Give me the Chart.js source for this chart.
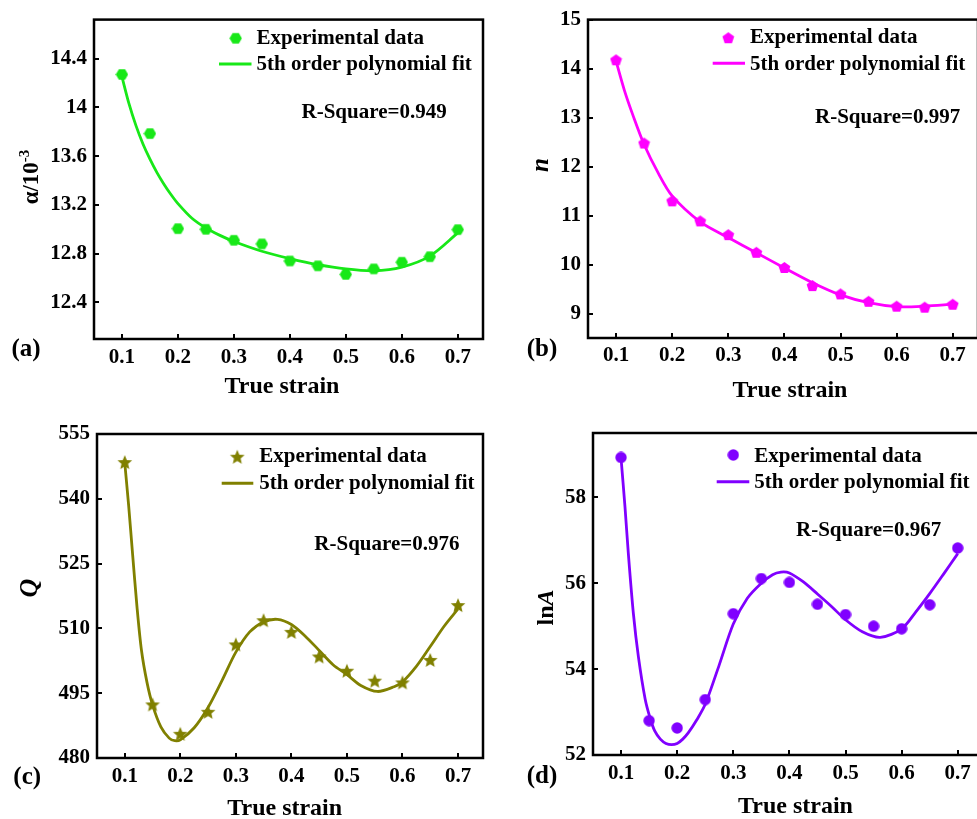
<!DOCTYPE html>
<html><head><meta charset="utf-8">
<script src="https://cdn.jsdelivr.net/npm/chart.js@4.4.1/dist/chart.umd.min.js"></script>
<style>
html,body{margin:0;padding:0;background:#fff;overflow:hidden;width:977px;height:819px;position:relative;}
canvas{position:absolute;}
</style></head><body>
<canvas id="cA" width="490" height="410" style="left:0px;top:0px"></canvas>
<canvas id="cB" width="500" height="410" style="left:490px;top:0px"></canvas>
<canvas id="cC" width="490" height="409" style="left:0px;top:410px"></canvas>
<canvas id="cD" width="500" height="409" style="left:490px;top:410px"></canvas>
<script>
// ---------- data ----------
const strain = [0.1,0.15,0.2,0.25,0.3,0.35,0.4,0.45,0.5,0.55,0.6,0.65,0.7];
const xTickVals = [0.1,0.2,0.3,0.4,0.5,0.6,0.7];

const alphaExp = [14.27,13.785,13.005,13.0,12.91,12.88,12.74,12.70,12.63,12.675,12.73,12.775,12.997];
const alphaFitX = [0.1,0.1125,0.125,0.1375,0.15,0.1625,0.175,0.1875,0.2,0.225,0.25,0.275,0.3,0.35,0.4,0.45,0.5,0.55,0.6,0.65,0.7];
const alphaFitY = [14.25,14.03,13.85,13.70,13.575,13.465,13.37,13.285,13.21,13.09,13.01,12.95,12.90,12.82,12.76,12.71,12.675,12.66,12.69,12.78,12.97];
const alphaTicks = [12.4,12.8,13.2,13.6,14,14.4];

const nExp = [14.18,12.48,11.30,10.89,10.61,10.25,9.94,9.57,9.40,9.25,9.15,9.13,9.19];
const nFitX = [0.1,0.115,0.13,0.15,0.175,0.2,0.25,0.3,0.35,0.4,0.45,0.5,0.55,0.6,0.65,0.7];
const nFitY = [14.15,13.55,13.05,12.45,11.87,11.40,10.87,10.55,10.24,9.93,9.63,9.38,9.22,9.14,9.15,9.19];
const nTicks = [9,10,11,12,13,14,15];

const qExp = [548.5,492.4,485.6,490.7,506.3,511.9,509.2,503.5,500.2,497.9,497.5,502.7,515.4];
const qFitX = [0.1,0.107,0.114,0.122,0.13,0.14,0.15,0.165,0.18,0.19,0.2,0.225,0.25,0.275,0.3,0.325,0.35,0.375,0.4,0.425,0.45,0.475,0.5,0.525,0.555,0.585,0.6,0.625,0.65,0.675,0.7];
const qFitY = [548.3,538.4,527.3,515.0,505.0,497.5,492.3,487.2,484.6,484.0,484.2,487.0,491.7,497.9,504.5,509.2,511.5,512.1,510.9,508.2,504.9,501.6,499.3,496.8,495.4,496.5,497.6,501.2,505.8,510.5,514.5];
const qTicks = [480,495,510,525,540,555];

const lnAExp = [58.93,52.80,52.63,53.29,55.29,56.11,56.02,55.51,55.27,55.0,54.94,55.50,56.82];
const lnAFitX = [0.1,0.107,0.113,0.122,0.131,0.143,0.152,0.16,0.17,0.18,0.19,0.2,0.21,0.22,0.235,0.25,0.275,0.3,0.325,0.35,0.37,0.385,0.4,0.425,0.45,0.475,0.5,0.53,0.562,0.6,0.625,0.65,0.675,0.7];
const lnAFitY = [58.91,57.78,56.69,55.29,54.28,53.30,52.85,52.56,52.37,52.27,52.24,52.27,52.37,52.52,52.82,53.18,54.1,55.05,55.65,56.0,56.2,56.26,56.24,56.03,55.75,55.46,55.15,54.87,54.74,54.94,55.33,55.76,56.22,56.69];
const lnATicks = [52,54,56,58];

const legendExp = 'Experimental data';
const legendFit = '5th order polynomial fit';
const xTitleText = 'True strain';

// ---------- helpers ----------
const SERIF = "'Liberation Serif','Times New Roman',serif";
Chart.defaults.color = '#000';
Chart.defaults.font.family = SERIF;

function makeMarker(shape, color, size) {
  const c = document.createElement('canvas');
  c.width = size; c.height = size;
  const g = c.getContext('2d');
  g.fillStyle = color;
  const cx = size / 2, cy = size / 2, r = size / 2 - 0.3;
  g.beginPath();
  if (shape === 'circle') {
    g.arc(cx, cy, r, 0, Math.PI * 2);
  } else if (shape === 'star') {
    for (let k = 0; k < 10; k++) {
      const ang = -Math.PI / 2 + k * Math.PI / 5;
      const rr = (k % 2 === 0) ? r : r * 0.45;
      const px = cx + rr * Math.cos(ang), py = cy + rr * Math.sin(ang) + 0.7;
      k === 0 ? g.moveTo(px, py) : g.lineTo(px, py);
    }
  } else {
    const n = shape === 'hexagon' ? 6 : 5;
    const off = shape === 'hexagon' ? 0 : -Math.PI / 2;
    for (let k = 0; k < n; k++) {
      const ang = off + k * 2 * Math.PI / n;
      const px = cx + r * Math.cos(ang), py = cy + r * Math.sin(ang) + (n === 5 ? 0.6 : 0);
      k === 0 ? g.moveTo(px, py) : g.lineTo(px, py);
    }
  }
  g.closePath();
  g.fill();
  return c;
}

function pts(xs, ys) { return xs.map((x, i) => ({ x: x, y: ys[i] })); }

const decor = {
  id: 'decor',
  afterDraw(chart, args, o) {
    const { ctx, chartArea: ca } = chart;
    const xs = chart.scales.x, ys = chart.scales.y;
    ctx.save();
    ctx.strokeStyle = '#000';
    ctx.lineWidth = 2;
    ctx.beginPath();
    xs.ticks.forEach(t => {
      const px = Math.round(xs.getPixelForValue(t.value));
      ctx.moveTo(px, ca.bottom); ctx.lineTo(px, ca.bottom - 5);
    });
    ys.ticks.forEach(t => {
      const py = Math.round(ys.getPixelForValue(t.value));
      ctx.moveTo(ca.left, py); ctx.lineTo(ca.left + 5, py);
    });
    ctx.stroke();
    ctx.lineWidth = 2.5;
    ctx.strokeRect(ca.left, ca.top, ca.right - ca.left, ca.bottom - ca.top);

    ctx.fillStyle = '#000';
    ctx.textBaseline = 'alphabetic';
    // legend
    const L = o.legend;
    const img = chart.data.datasets[0].pointStyle;
    ctx.drawImage(img, L.mx - img.width / 2, L.my - img.height / 2);
    ctx.strokeStyle = chart.data.datasets[1].borderColor;
    ctx.lineWidth = 3;
    ctx.beginPath(); ctx.moveTo(L.lx1, L.ly); ctx.lineTo(L.lx2, L.ly); ctx.stroke();
    ctx.font = 'bold 21px ' + SERIF;
    ctx.textAlign = 'left';
    ctx.fillText(legendExp, L.tx, L.ty1);
    ctx.fillText(legendFit, L.tx, L.ty2);
    // R-square
    ctx.fillText(o.rsq.text, o.rsq.x, o.rsq.y);
    // panel label
    ctx.font = 'bold 25px ' + SERIF;
    ctx.fillText(o.label.text, o.label.x, o.label.y);
    // x title
    ctx.font = 'bold 24px ' + SERIF;
    ctx.textAlign = 'center';
    ctx.fillText(xTitleText, o.xTitle.x, o.xTitle.y);
    // y title (rotated, mixed styles)
    const T = o.yTitle;
    ctx.translate(T.x, T.y);
    ctx.rotate(-Math.PI / 2);
    ctx.textAlign = 'left';
    let total = 0;
    T.segs.forEach(s => { ctx.font = s.font; s.w = ctx.measureText(s.text).width; total += s.w; });
    let xo = -total / 2;
    T.segs.forEach(s => { ctx.font = s.font; ctx.fillText(s.text, xo, -(s.rise || 0)); xo += s.w; });
    ctx.restore();
  }
};

function makeChart(id, c) {
  const canvas = document.getElementById(id);
  const W = canvas.width, H = canvas.height;
  const a = c.area;
  return new Chart(canvas, {
    type: 'scatter',
    data: {
      datasets: [
        { label: legendExp, data: pts(strain, c.exp), pointStyle: c.marker, pointRadius: 6,
          pointHoverRadius: 6, backgroundColor: c.color, borderColor: c.color, showLine: false },
        { label: legendFit, data: pts(c.fitX, c.fitY), showLine: true, pointRadius: 0,
          pointHoverRadius: 0, borderColor: c.color, borderWidth: 2.8, tension: 0.3,
          fill: false }
      ]
    },
    options: {
      responsive: false, animation: false, devicePixelRatio: 1,
      events: [],
      layout: { padding: { left: 0, top: a.t, right: W - a.r, bottom: 0 } },
      plugins: { legend: { display: false }, tooltip: { enabled: false }, decor: c.decor },
      scales: {
        x: {
          type: 'linear', min: 0.05, max: 0.745,
          grid: { display: false, drawTicks: false }, border: { display: false },
          afterBuildTicks: s => { s.ticks = xTickVals.map(v => ({ value: v })); },
          afterFit: s => { s.height = H - a.b; },
          ticks: { autoSkip: false, maxRotation: 0, padding: c.xPad, color: '#000',
                   font: { family: SERIF, size: 21, weight: 'bold' }, callback: v => String(v) }
        },
        y: {
          type: 'linear', min: c.yMin, max: c.yMax,
          grid: { display: false, drawTicks: false }, border: { display: false },
          afterBuildTicks: s => { s.ticks = c.yTicks.map(v => ({ value: v })); },
          afterFit: s => { s.width = a.l; },
          ticks: { autoSkip: false, padding: 7, color: '#000',
                   font: { family: SERIF, size: 21, weight: 'bold' }, callback: v => String(v) }
        }
      }
    },
    plugins: [decor]
  });
}

const BI = 'italic bold ';

makeChart('cA', {
  exp: alphaExp, fitX: alphaFitX, fitY: alphaFitY, yTicks: alphaTicks, yMin: 12.1, yMax: 14.72,
  color: 'rgb(24,232,24)', marker: makeMarker('hexagon', 'rgb(24,232,24)', 13),
  area: { l: 94, t: 16, r: 484, b: 339 }, xPad: 6,
  decor: {
    legend: { mx: 235.7, my: 38.3, tx: 256.5, ty1: 43.5, lx1: 219, lx2: 251.5, ly: 64, ty2: 69.5 },
    rsq: { text: 'R-Square=0.949', x: 301.5, y: 118 },
    label: { text: '(a)', x: 11.5, y: 356 },
    xTitle: { x: 282, y: 393 },
    yTitle: { x: 38, y: 177, segs: [ { text: 'α/10', font: 'bold 23px ' + SERIF }, { text: '-3', font: 'bold 15px ' + SERIF, rise: 9 } ] }
  }
});

makeChart('cB', {
  exp: nExp, fitX: nFitX, fitY: nFitY, yTicks: nTicks, yMin: 8.5, yMax: 15,
  color: '#ff00ff', marker: makeMarker('pentagon', '#ff00ff', 13),
  area: { l: 98, t: 15, r: 488, b: 338 }, xPad: 5,
  decor: {
    legend: { mx: 238.3, my: 37.7, tx: 260, ty1: 43.3, lx1: 222.7, lx2: 255, ly: 63.3, ty2: 70 },
    rsq: { text: 'R-Square=0.997', x: 325, y: 123.3 },
    label: { text: '(b)', x: 36.7, y: 356 },
    xTitle: { x: 300, y: 396.7 },
    yTitle: { x: 58.3, y: 165, segs: [ { text: 'n', font: BI + '25px ' + SERIF } ] }
  }
});

makeChart('cC', {
  exp: qExp, fitX: qFitX, fitY: qFitY, yTicks: qTicks, yMin: 480, yMax: 555,
  color: '#808000', marker: makeMarker('star', '#808000', 16),
  area: { l: 97, t: 24, r: 487, b: 348 }, xPad: 6,
  decor: {
    legend: { mx: 237.3, my: 46.7, tx: 259.3, ty1: 52.3, lx1: 221.7, lx2: 253.3, ly: 73.3, ty2: 79 },
    rsq: { text: 'R-Square=0.976', x: 314.3, y: 140 },
    label: { text: '(c)', x: 13.3, y: 374 },
    xTitle: { x: 284.7, y: 405 },
    yTitle: { x: 37.2, y: 178, segs: [ { text: 'Q', font: BI + '26px ' + SERIF } ] }
  }
});

makeChart('cD', {
  exp: lnAExp, fitX: lnAFitX, fitY: lnAFitY, yTicks: lnATicks, yMin: 52, yMax: 59.5,
  color: '#8000ff', marker: makeMarker('circle', '#8000ff', 12),
  area: { l: 103, t: 23, r: 493, b: 345 }, xPad: 6,
  decor: {
    legend: { mx: 243.3, my: 45, tx: 264.3, ty1: 51.7, lx1: 226.7, lx2: 259.3, ly: 71.7, ty2: 78.3 },
    rsq: { text: 'R-Square=0.967', x: 306, y: 126 },
    label: { text: '(d)', x: 36.7, y: 373 },
    xTitle: { x: 305.5, y: 403 },
    yTitle: { x: 63, y: 197.5, segs: [ { text: 'ln', font: 'bold 24px ' + SERIF }, { text: 'A', font: BI + '24px ' + SERIF } ] }
  }
});
</script>
</body></html>
